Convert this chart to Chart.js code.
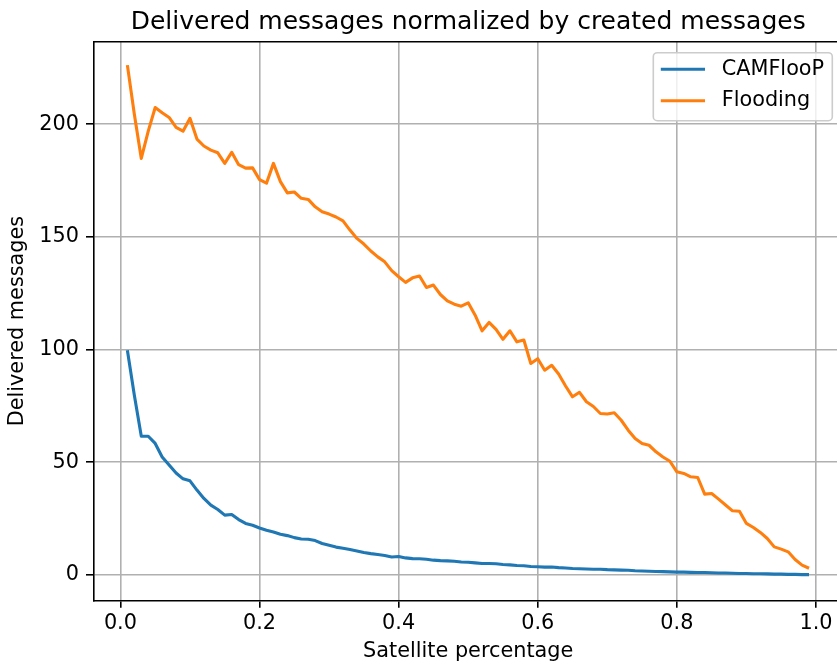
<!DOCTYPE html>
<html><head><meta charset="utf-8">
<script src="https://cdn.jsdelivr.net/npm/chart.js@4.4.0/dist/chart.umd.min.js"></script>
<style>
html,body{margin:0;padding:0;overflow:hidden;background:#fff;width:837px;height:666px}
canvas{display:block}
</style></head>
<body><canvas id="c" width="850" height="666"></canvas>
<script>
const satellitePct = [0.01,0.02,0.03,0.04,0.05,0.06,0.07,0.08,0.09,0.10,
  0.11,0.12,0.13,0.14,0.15,0.16,0.17,0.18,0.19,0.20,
  0.21,0.22,0.23,0.24,0.25,0.26,0.27,0.28,0.29,0.30,
  0.31,0.32,0.33,0.34,0.35,0.36,0.37,0.38,0.39,0.40,
  0.41,0.42,0.43,0.44,0.45,0.46,0.47,0.48,0.49,0.50,
  0.51,0.52,0.53,0.54,0.55,0.56,0.57,0.58,0.59,0.60,
  0.61,0.62,0.63,0.64,0.65,0.66,0.67,0.68,0.69,0.70,
  0.71,0.72,0.73,0.74,0.75,0.76,0.77,0.78,0.79,0.80,
  0.81,0.82,0.83,0.84,0.85,0.86,0.87,0.88,0.89,0.90,
  0.91,0.92,0.93,0.94,0.95,0.96,0.97,0.98,0.99];

const camflooP = [99.7,79.7,61.5,61.5,58.3,52.3,48.7,45.2,42.6,41.7,
  37.6,33.9,30.9,29.0,26.5,26.8,24.5,22.8,22.0,20.8,
  19.8,19.0,18.0,17.4,16.5,15.9,15.8,15.2,13.9,13.1,
  12.3,11.8,11.2,10.6,9.9,9.4,9.0,8.6,7.9,8.1,
  7.5,7.2,7.1,6.9,6.5,6.3,6.2,6.0,5.7,5.6,
  5.3,5.0,5.0,4.9,4.6,4.4,4.1,4.0,3.7,3.6,
  3.4,3.5,3.2,3.0,2.8,2.7,2.6,2.5,2.5,2.3,
  2.2,2.1,2.0,1.8,1.7,1.6,1.5,1.4,1.3,1.2,
  1.2,1.1,1.0,1.0,0.9,0.8,0.8,0.7,0.6,0.6,
  0.5,0.5,0.4,0.3,0.3,0.2,0.2,0.1,0.1];

const flooding = [226.2,204.4,184.8,196.9,207.4,205.1,203.0,198.6,196.9,202.6,
  193.4,190.3,188.5,187.3,182.6,187.5,182.0,180.5,180.6,175.4,
  173.8,182.6,174.5,169.5,169.9,167.1,166.6,163.3,161.1,160.1,
  158.8,157.1,153.0,149.3,146.8,143.7,141.1,138.9,135.0,132.3,
  129.8,131.8,132.6,127.5,128.6,124.4,121.6,120.1,119.2,120.7,
  115.2,108.3,112.0,108.9,104.5,108.3,103.4,104.2,93.8,95.9,
  90.8,93.0,89.1,83.8,79.0,81.0,76.8,74.7,71.6,71.4,
  71.9,68.6,64.2,60.5,58.3,57.5,54.6,52.3,50.4,45.7,
  45.0,43.5,43.2,35.8,36.1,33.6,31.0,28.4,28.2,22.8,
  21.0,18.8,16.1,12.4,11.4,10.2,6.8,4.3,2.9];

const seriesNames = ['CAMFlooP', 'Flooding'];
const seriesColors = ['#1f77b4', '#ff7f0e'];
const xTickValues = [0.0, 0.2, 0.4, 0.6, 0.8, 1.0];
const yTickValues = [0, 50, 100, 150, 200];
const chartTitle = 'Delivered messages normalized by created messages';
const xAxisTitle = 'Satellite percentage';
const yAxisTitle = 'Delivered messages';

const FONT = "'DejaVu Sans', 'Liberation Sans', sans-serif";
const FS = 20.8;

const framePlugin = {
  id: 'frame',
  afterDatasetsDraw(chart) {
    const {ctx, chartArea: a} = chart;
    ctx.save();
    ctx.strokeStyle = '#000';
    ctx.lineWidth = 1.6;
    ctx.beginPath();
    ctx.moveTo(a.left, a.top);
    ctx.lineTo(a.right, a.top);
    ctx.lineTo(a.right, a.bottom);
    ctx.stroke();
    ctx.restore();
  },
  afterDraw(chart) {
    const {ctx, chartArea: a} = chart;
    const bx = a.right - 189.8, by = a.top + 11, bw = 179, bh = 68, r = 4;
    ctx.save();
    ctx.beginPath();
    ctx.moveTo(bx + r, by);
    ctx.lineTo(bx + bw - r, by);
    ctx.arcTo(bx + bw, by, bx + bw, by + r, r);
    ctx.lineTo(bx + bw, by + bh - r);
    ctx.arcTo(bx + bw, by + bh, bx + bw - r, by + bh, r);
    ctx.lineTo(bx + r, by + bh);
    ctx.arcTo(bx, by + bh, bx, by + bh - r, r);
    ctx.lineTo(bx, by + r);
    ctx.arcTo(bx, by, bx + r, by, r);
    ctx.closePath();
    ctx.fillStyle = 'rgba(255,255,255,0.8)';
    ctx.fill();
    ctx.strokeStyle = '#cccccc';
    ctx.lineWidth = 1.6;
    ctx.stroke();
    chart.data.datasets.forEach((ds, i) => {
      const y = by + 16.6 + i * 31.4;
      ctx.strokeStyle = ds.borderColor;
      ctx.lineWidth = 3.1;
      ctx.lineCap = 'butt';
      ctx.beginPath();
      ctx.moveTo(bx + 7.5, y);
      ctx.lineTo(bx + 51.7, y);
      ctx.stroke();
      ctx.fillStyle = '#000';
      ctx.font = FS + 'px ' + FONT;
      ctx.textAlign = 'left';
      ctx.textBaseline = 'middle';
      ctx.fillText(ds.label, bx + 68.4, y);
    });
    ctx.restore();
  }
};

new Chart(document.getElementById('c'), {
  type: 'line',
  data: {
    datasets: seriesNames.map((name, k) => ({
      label: name,
      data: satellitePct.map((x, i) => ({x: x, y: (k === 0 ? camflooP : flooding)[i]})),
      borderColor: seriesColors[k],
      backgroundColor: seriesColors[k],
      borderWidth: 3.1,
      pointRadius: 0,
      tension: 0,
      fill: false,
      borderJoinStyle: 'round',
      borderCapStyle: 'butt'
    }))
  },
  options: {
    responsive: false,
    animation: false,
    events: [],
    layout: {padding: {left: 0, right: 6.9, top: 0, bottom: 0}},
    plugins: {
      legend: {display: false},
      tooltip: {enabled: false},
      title: {
        display: true,
        fullSize: false,
        text: chartTitle,
        color: '#000',
        font: {family: FONT, size: 25, weight: 'normal', lineHeight: 1.2},
        padding: {top: 7, bottom: 4.7}
      }
    },
    scales: {
      x: {
        type: 'linear',
        min: -0.039,
        max: 1.039,
        afterBuildTicks: (s) => { s.ticks = xTickValues.map(v => ({value: v})); },
        afterFit: (s) => { s.height = 65.5; },
        ticks: {
          color: '#000',
          font: {family: FONT, size: FS},
          padding: 3.5,
          maxRotation: 0,
          autoSkip: false,
          callback: (v) => Number(v).toFixed(1)
        },
        grid: {color: '#b0b0b0', lineWidth: 1.6, tickColor: '#000', tickWidth: 1.6, tickLength: 7.3, drawTicks: true},
        border: {display: true, color: '#000', width: 1.6},
        title: {display: true, text: xAxisTitle, color: '#000', font: {family: FONT, size: FS}, padding: {top: 0, bottom: 2}}
      },
      y: {
        type: 'linear',
        min: -11.4,
        max: 236.6,
        afterBuildTicks: (s) => { s.ticks = yTickValues.map(v => ({value: v})); },
        afterFit: (s) => { s.width = 93.3; },
        ticks: {
          color: '#000',
          font: {family: FONT, size: FS},
          padding: 7,
          autoSkip: false,
          callback: (v) => String(v)
        },
        grid: {color: '#b0b0b0', lineWidth: 1.6, tickColor: '#000', tickWidth: 1.6, tickLength: 7.3, drawTicks: true},
        border: {display: true, color: '#000', width: 1.6},
        title: {display: true, text: yAxisTitle, color: '#000', font: {family: FONT, size: FS}, padding: {top: 5.5, bottom: 0}}
      }
    }
  },
  plugins: [framePlugin]
});
</script>
</body></html>
